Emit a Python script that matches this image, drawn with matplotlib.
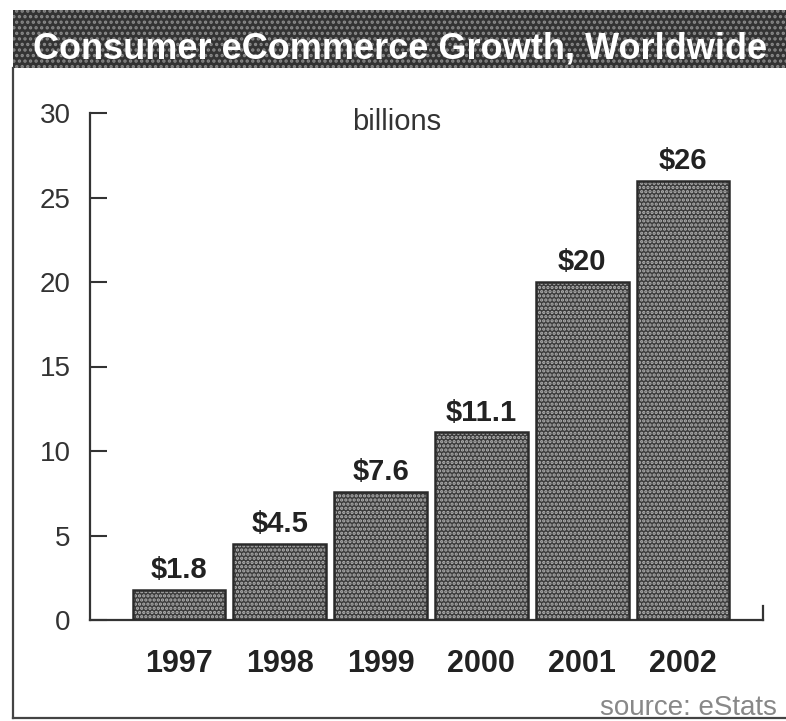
import matplotlib
matplotlib.use("Agg")
import matplotlib.pyplot as plt
from matplotlib.patches import Rectangle
from matplotlib.lines import Line2D

# Data (billions of US dollars)
years = ["1997", "1998", "1999", "2000", "2001", "2002"]
revenue = [1.8, 4.5, 7.6, 11.1, 20, 26]
value_labels = ["$1.8", "$4.5", "$7.6", "$11.1", "$20", "$26"]
y_ticks = [0, 5, 10, 15, 20, 25, 30]

plt.rcParams['font.family'] = ['Liberation Sans', 'DejaVu Sans']
plt.rcParams['hatch.linewidth'] = 1.6

fig = plt.figure(figsize=(7.86, 7.21), dpi=100)
fig.patch.set_facecolor('white')

# Title band
band = Rectangle((13 / 786, 1 - 68 / 721), 1 - 13 / 786, 58 / 721,
                 transform=fig.transFigure, facecolor='#333333',
                 edgecolor='#8a8a8a', hatch='...', linewidth=0, zorder=0)
fig.patches.append(band)
fig.text(0.509, 1 - 58 / 721, "Consumer eCommerce Growth, Worldwide",
         color='white', fontsize=26, fontweight='bold', ha='center',
         va='baseline')

# Outer frame (left and bottom)
fig.lines.append(Line2D([13 / 786, 13 / 786], [1 - 68 / 721, 1 - 718 / 721],
                        transform=fig.transFigure, color='#444444', lw=1.6))
fig.lines.append(Line2D([13 / 786, 1.0], [1 - 718 / 721, 1 - 718 / 721],
                        transform=fig.transFigure, color='#444444', lw=1.6))

ax = fig.add_axes([90 / 786, 101 / 721, 673 / 786, 507 / 721])
x = list(range(len(years)))

# Bars: dark fill with a light speckle hatch
ax.bar(x, revenue, width=0.92, color='#3c3c3c', edgecolor='#b4b4b4',
       hatch='....', linewidth=0, zorder=2)
ax.bar(x, revenue, width=0.92, facecolor='none', edgecolor='#2a2a2a',
       linewidth=1.8, zorder=3)

for xi, v, lab in zip(x, revenue, value_labels):
    ax.annotate(lab, (xi, v), xytext=(0, 4), textcoords='offset points',
                ha='center', va='bottom', fontsize=21, fontweight='bold',
                color='#222222')

ax.set_xlim(-0.883, 5.794)
ax.set_ylim(0, 30)
ax.set_yticks(y_ticks)
ax.set_xticks(x)
ax.set_xticklabels(years, fontsize=22, fontweight='bold', color='#222222')
ax.tick_params(axis='x', length=0, pad=21)
ax.tick_params(axis='y', direction='in', length=12, width=1.5,
               color='#333333', labelsize=20, labelcolor='#333333', pad=14)

ax.spines['top'].set_visible(False)
for s in ['left', 'bottom', 'right']:
    ax.spines[s].set_color('#333333')
    ax.spines[s].set_linewidth(1.6)
ax.spines['right'].set_bounds(0, 0.8)

ax.text(0.456, 0.966, "billions", transform=ax.transAxes, fontsize=21,
        ha='center', va='baseline', color='#333333')

fig.text(600 / 786, 1 - 715 / 721, "source: eStats", fontsize=20,
         color='#888888', ha='left', va='baseline')

fig.savefig("out.png", dpi=100)
